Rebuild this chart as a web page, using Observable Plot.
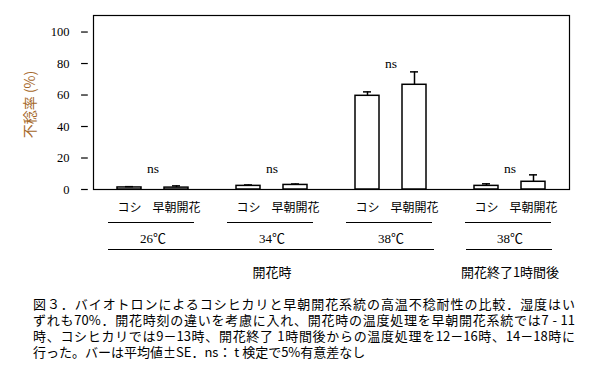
<!DOCTYPE html>
<html><head><meta charset="utf-8">
<script src="https://cdn.jsdelivr.net/npm/d3@7"></script>
<script src="https://cdn.jsdelivr.net/npm/@observablehq/plot@0.6"></script>
<style>
body{margin:0;background:#fff;}
#chart{position:absolute;left:0;top:0;width:598px;}
.cap{position:absolute;left:33px;top:296px;width:542px;font-family:"Noto Sans CJK JP";font-size:13px;line-height:16px;color:#000;}
.cap div{height:16px;overflow:visible;white-space:nowrap;}
.cap div.j{text-align:justify;text-align-last:justify;}
</style></head><body><div id="chart"></div>
<div class="cap">
<div class="j">図３．バイオトロンによるコシヒカリと早朝開花系統の高温不稔耐性の比較．湿度はい</div>
<div class="j">ずれも70%．開花時刻の違いを考慮に入れ、開花時の温度処理を早朝開花系統では7 - 11</div>
<div class="j">時、コシヒカリでは9－13時、開花終了 1時間後からの温度処理を12－16時、14－18時に</div>
<div>行った。バーは平均値±SE．ns： t 検定で5%有意差なし</div>
</div>
<script>
const groups = ["26℃開花時", "34℃開花時", "38℃開花時", "38℃開花終了1時間後"];
const temps = ["26℃", "34℃", "38℃", "38℃"];
const cultivars = ["コシ", "早朝開花"];
const koshiValues = [1.3, 2.3, 59.5, 2.3];
const koshiSE = [0.5, 0.6, 2.5, 1.3];
const souchoValues = [1.2, 2.9, 66.5, 4.9];
const souchoSE = [1.1, 0.6, 8.2, 4.4];
const nsLabels = ["ns", "ns", "ns", "ns"];
const nsLevels = [13, 13, 80, 13];
const timingLabels = ["開花時", "開花終了1時間後"];
const timingGroups = ["34℃開花時", "38℃開花終了1時間後"];
const yTicks = [0, 20, 40, 60, 80, 100];
const yLabel = "不稔率 (%)";

const rows = [];
groups.forEach((g, i) => {
  rows.push({group: g, cultivar: cultivars[0], value: koshiValues[i], se: koshiSE[i]});
  rows.push({group: g, cultivar: cultivars[1], value: souchoValues[i], se: souchoSE[i]});
});
const nsRows = groups.map((g, i) => ({group: g, label: nsLabels[i], y: nsLevels[i]}));
const tempRows = groups.map((g, i) => ({group: g, label: temps[i]}));
const timingRows = timingGroups.map((g, i) => ({group: g, label: timingLabels[i]}));

const serif = "'Liberation Serif', 'Noto Sans CJK JP', serif";
const jp = "'Noto Sans CJK JP', sans-serif";
const outer = 0.1;
const facetStep = (598 - 80 - 17) / (groups.length + 2 * outer);
const axisShift = -facetStep * outer;

const chart = Plot.plot({
  width: 598,
  height: 296,
  marginLeft: 80,
  marginRight: 17,
  marginTop: 15,
  marginBottom: 107,
  style: {fontFamily: jp, fontSize: "12px", background: "white", overflow: "visible"},
  fx: {domain: groups, paddingInner: 0, paddingOuter: outer, axis: null},
  x: {domain: cultivars, paddingInner: 0.479, paddingOuter: 0.482, axis: null},
  y: {domain: [0, 110.5], axis: null},
  marks: [
    Plot.frame({facet: "super", stroke: "black", strokeWidth: 1.2}),
    Plot.ruleY(yTicks, {facetAnchor: "left", y: d => d, dx: axisShift, insetRight: facetStep - 7, stroke: "black", strokeWidth: 1.2}),
    Plot.axisY(yTicks, {facetAnchor: "left", anchor: "left", dx: axisShift, tickSize: 0, tickPadding: 12, label: null, fontSize: 12.5, fontFamily: serif, fill: "black"}),
    Plot.text([yLabel], {facetAnchor: "left", text: d => d, frameAnchor: "left", lineAnchor: "middle", textAnchor: "middle", rotate: -90, dx: axisShift - 51, dy: 2, fill: "#a5682a", fontSize: 14, fontFamily: jp}),
    Plot.barY(rows, {fx: "group", x: "cultivar", y: "value", fill: "white", stroke: "black", strokeWidth: 1.5}),
    Plot.ruleX(rows, {fx: "group", x: "cultivar", y1: "value", y2: d => d.value + d.se, stroke: "black", strokeWidth: 1.5}),
    Plot.tickY(rows, {fx: "group", x: "cultivar", y: d => d.value + d.se, insetLeft: 8, insetRight: 8, stroke: "black", strokeWidth: 1.5}),
    Plot.text(nsRows, {fx: "group", y: "y", text: "label", lineAnchor: "middle", fontSize: 13.5, fontFamily: serif, fill: "black"}),
    Plot.text(rows, {fx: "group", x: "cultivar", text: "cultivar", frameAnchor: "bottom", lineAnchor: "middle", dy: 19, fontSize: 12, fontFamily: jp, fill: "black"}),
    Plot.ruleY(groups, {fx: d => d, y: () => 0, dy: 33, insetLeft: 15, insetRight: 18, stroke: "black", strokeWidth: 1.2}),
    Plot.text(tempRows, {fx: "group", text: "label", frameAnchor: "bottom", lineAnchor: "middle", dy: 49, fontSize: 13, fontFamily: serif, fill: "black"}),
    Plot.ruleY([groups[0]], {fx: d => d, y: () => 0, dy: 60, insetLeft: 15, stroke: "black", strokeWidth: 1.2}),
    Plot.ruleY([groups[1]], {fx: d => d, y: () => 0, dy: 60, stroke: "black", strokeWidth: 1.2}),
    Plot.ruleY([groups[2]], {fx: d => d, y: () => 0, dy: 60, insetRight: 16, stroke: "black", strokeWidth: 1.2}),
    Plot.ruleY([groups[3]], {fx: d => d, y: () => 0, dy: 60, insetLeft: 16, insetRight: 17, stroke: "black", strokeWidth: 1.2}),
    Plot.text(timingRows, {fx: "group", text: "label", frameAnchor: "bottom", lineAnchor: "middle", dy: 83, fontSize: 13, fontFamily: jp, fill: "black"})
  ]
});
document.getElementById("chart").appendChild(chart);
</script>
</body></html>
